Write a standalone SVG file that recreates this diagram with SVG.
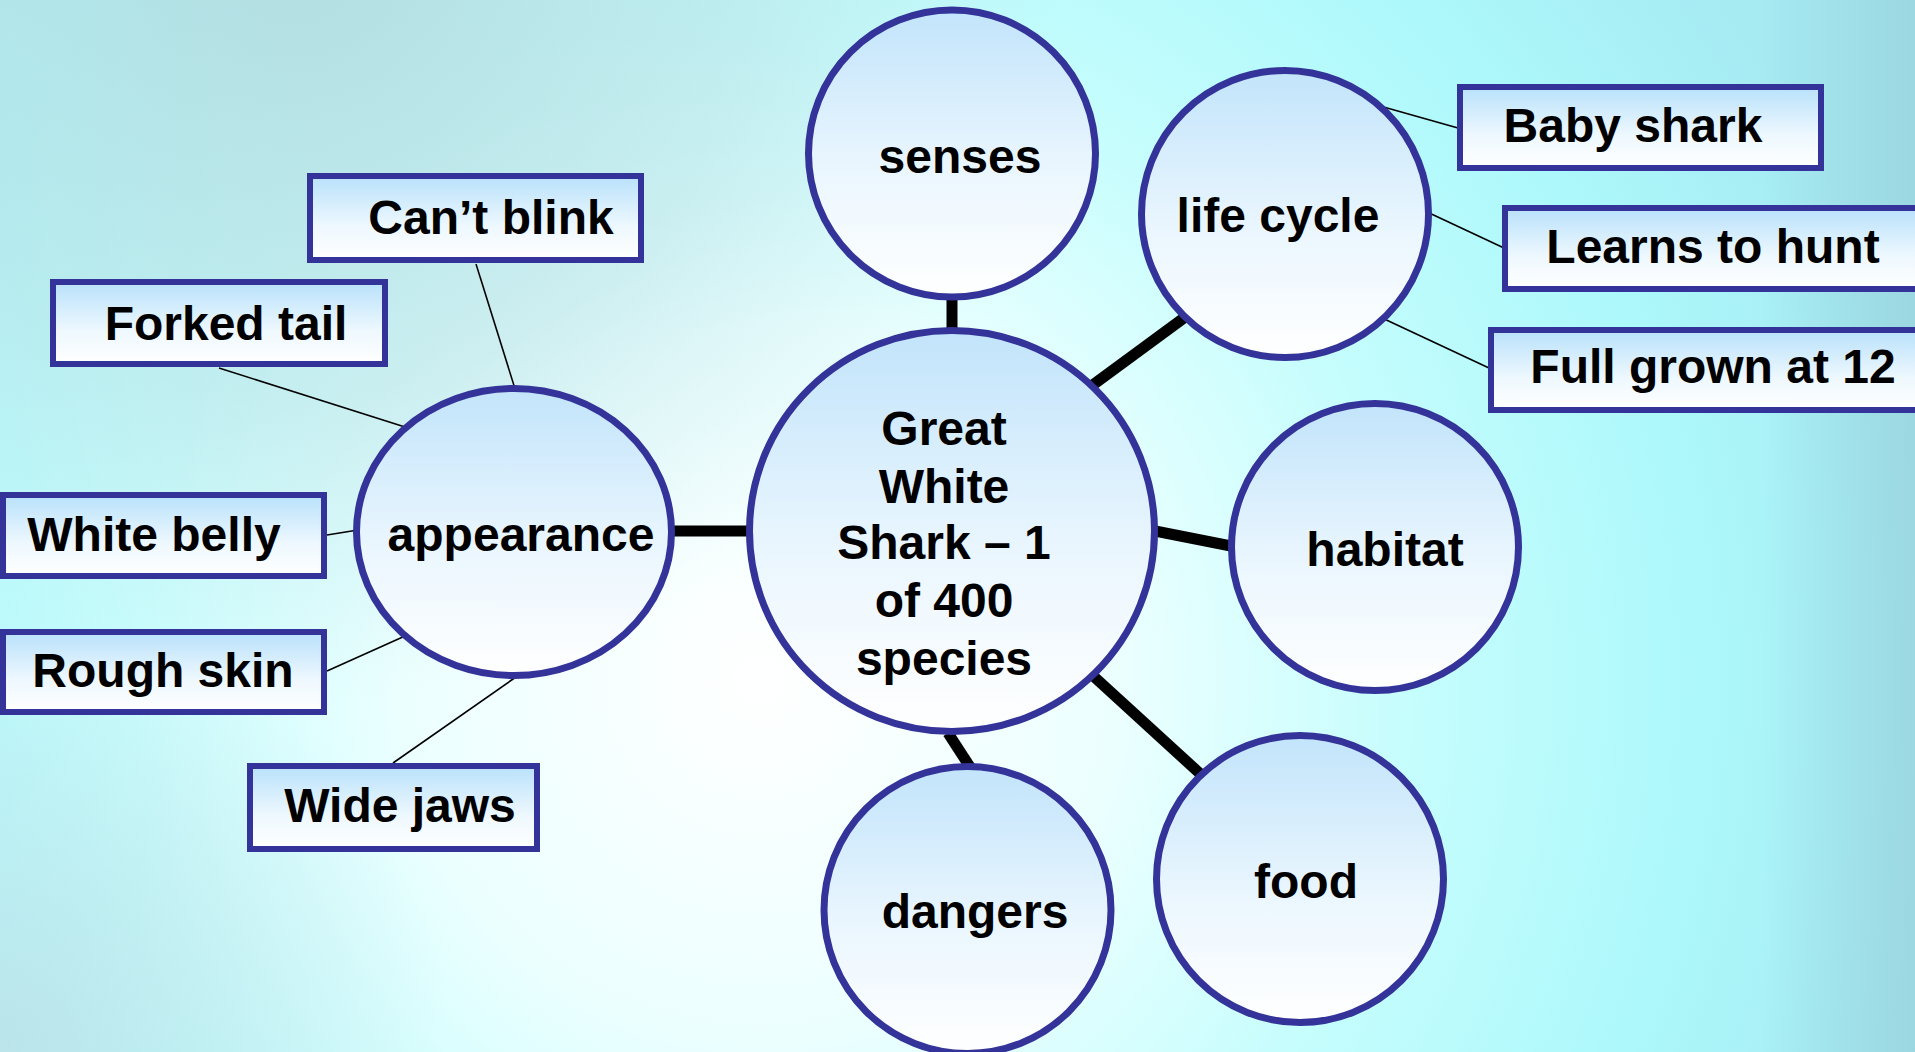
<svg xmlns="http://www.w3.org/2000/svg" width="1915" height="1052" viewBox="0 0 1915 1052">
<defs>
<radialGradient id="bg" gradientUnits="userSpaceOnUse" cx="760" cy="680" r="1180">
<stop offset="0" stop-color="#ffffff"/>
<stop offset="0.3" stop-color="#ecffff"/>
<stop offset="0.55" stop-color="#c6fdfd"/>
<stop offset="0.8" stop-color="#acf8fb"/>
<stop offset="1" stop-color="#a6eaf2"/>
</radialGradient>
<radialGradient id="topshade" gradientUnits="userSpaceOnUse" cx="300" cy="-60" r="760">
<stop offset="0" stop-color="#b2d8dc" stop-opacity="0.85"/>
<stop offset="0.6" stop-color="#b8dfe3" stop-opacity="0.5"/>
<stop offset="1" stop-color="#bfe6ea" stop-opacity="0"/>
</radialGradient>
<linearGradient id="rightshade" gradientUnits="userSpaceOnUse" x1="1760" y1="0" x2="1915" y2="0">
<stop offset="0" stop-color="#94cbd6" stop-opacity="0"/>
<stop offset="1" stop-color="#94cbd6" stop-opacity="0.6"/>
</linearGradient>
<radialGradient id="blshade" gradientUnits="userSpaceOnUse" cx="0" cy="1052" r="450">
<stop offset="0" stop-color="#bcdfe6" stop-opacity="0.8"/>
<stop offset="1" stop-color="#bcdfe6" stop-opacity="0"/>
</radialGradient>
<linearGradient id="nodeFill" x1="0" y1="0" x2="0" y2="1">
<stop offset="0" stop-color="#c2e4fb"/>
<stop offset="0.55" stop-color="#eaf6fe"/>
<stop offset="1" stop-color="#ffffff"/>
</linearGradient>
<linearGradient id="boxFill" x1="0" y1="0" x2="0" y2="1">
<stop offset="0" stop-color="#b8e1fb"/>
<stop offset="0.6" stop-color="#eef8fe"/>
<stop offset="1" stop-color="#ffffff"/>
</linearGradient>
<style>
.circ{fill:url(#nodeFill);stroke:#333399;stroke-width:7}
.box{fill:url(#boxFill);stroke:#333399;stroke-width:6}
.lbl{font-family:"Liberation Sans",Arial,sans-serif;font-weight:bold;font-size:48px;fill:#000;text-anchor:middle}
.thick{stroke:#000;stroke-width:11;fill:none}
.thin{stroke:#000;stroke-width:1.6;fill:none}
</style>
</defs>
<rect x="0" y="0" width="1915" height="1052" fill="url(#bg)"/>
<rect x="0" y="0" width="1915" height="1052" fill="url(#topshade)"/>
<rect x="0" y="0" width="1915" height="1052" fill="url(#rightshade)"/>
<rect x="0" y="0" width="1915" height="1052" fill="url(#blshade)"/>

<g id="connectors">
<line class="thick" x1="665" y1="531" x2="755" y2="531"/>
<line class="thick" x1="952" y1="290" x2="952" y2="335"/>
<line class="thick" x1="1090" y1="387" x2="1192" y2="312"/>
<line class="thick" x1="1150" y1="530" x2="1236" y2="547"/>
<line class="thick" x1="1090" y1="673" x2="1207" y2="780"/>
<line class="thick" x1="948" y1="733" x2="972" y2="770"/>
<line class="thin" x1="476" y1="264" x2="516" y2="392"/>
<line class="thin" x1="219" y1="368" x2="405" y2="427"/>
<line class="thin" x1="327" y1="535" x2="358" y2="530"/>
<line class="thin" x1="327" y1="671" x2="405" y2="636"/>
<line class="thin" x1="393" y1="763" x2="516" y2="677"/>
<line class="thin" x1="1380" y1="106" x2="1458" y2="128"/>
<line class="thin" x1="1425" y1="211" x2="1504" y2="248"/>
<line class="thin" x1="1380" y1="317" x2="1489" y2="368"/>
</g>

<g id="node-center">
<ellipse class="circ" cx="952" cy="531" rx="202.5" ry="200.5"/>
<text class="lbl" x="944"><tspan x="944" y="445">Great</tspan><tspan x="944" y="503">White</tspan><tspan x="944" y="559">Shark – 1</tspan><tspan x="944" y="617">of 400</tspan><tspan x="944" y="675">species</tspan></text>
</g>
<g id="node-senses">
<circle class="circ" cx="952" cy="153.5" r="143.5"/>
<text class="lbl" x="960" y="173">senses</text>
</g>
<g id="node-lifecycle">
<circle class="circ" cx="1285" cy="214" r="143.5"/>
<text class="lbl" x="1278" y="232">life cycle</text>
</g>
<g id="node-habitat">
<circle class="circ" cx="1375" cy="547" r="143.5"/>
<text class="lbl" x="1385" y="566">habitat</text>
</g>
<g id="node-food">
<circle class="circ" cx="1300" cy="879" r="143.5"/>
<text class="lbl" x="1306" y="898">food</text>
</g>
<g id="node-dangers">
<circle class="circ" cx="967.5" cy="910" r="143.5"/>
<text class="lbl" x="975" y="928">dangers</text>
</g>
<g id="node-appearance">
<ellipse class="circ" cx="514" cy="532" rx="157.5" ry="143.5"/>
<text class="lbl" x="521" y="551">appearance</text>
</g>

<g id="box-cantblink">
<rect class="box" x="310" y="176" width="331" height="84"/>
<text class="lbl" x="491" y="234">Can’t blink</text>
</g>
<g id="box-forkedtail">
<rect class="box" x="53" y="282" width="332" height="82"/>
<text class="lbl" x="226" y="340">Forked tail</text>
</g>
<g id="box-whitebelly">
<rect class="box" x="3" y="495" width="321" height="81"/>
<text class="lbl" x="154" y="551">White belly</text>
</g>
<g id="box-roughskin">
<rect class="box" x="3" y="632" width="321" height="80"/>
<text class="lbl" x="163" y="687">Rough skin</text>
</g>
<g id="box-widejaws">
<rect class="box" x="250" y="766" width="287" height="83"/>
<text class="lbl" x="400" y="822">Wide jaws</text>
</g>
<g id="box-babyshark">
<rect class="box" x="1460" y="87" width="361" height="81"/>
<text class="lbl" x="1633" y="142">Baby shark</text>
</g>
<g id="box-learnstohunt">
<rect class="box" x="1505" y="208" width="430" height="81"/>
<text class="lbl" x="1713" y="263">Learns to hunt</text>
</g>
<g id="box-fullgrown">
<rect class="box" x="1491" y="330" width="440" height="80"/>
<text class="lbl" x="1713" y="383">Full grown at 12</text>
</g>
</svg>
